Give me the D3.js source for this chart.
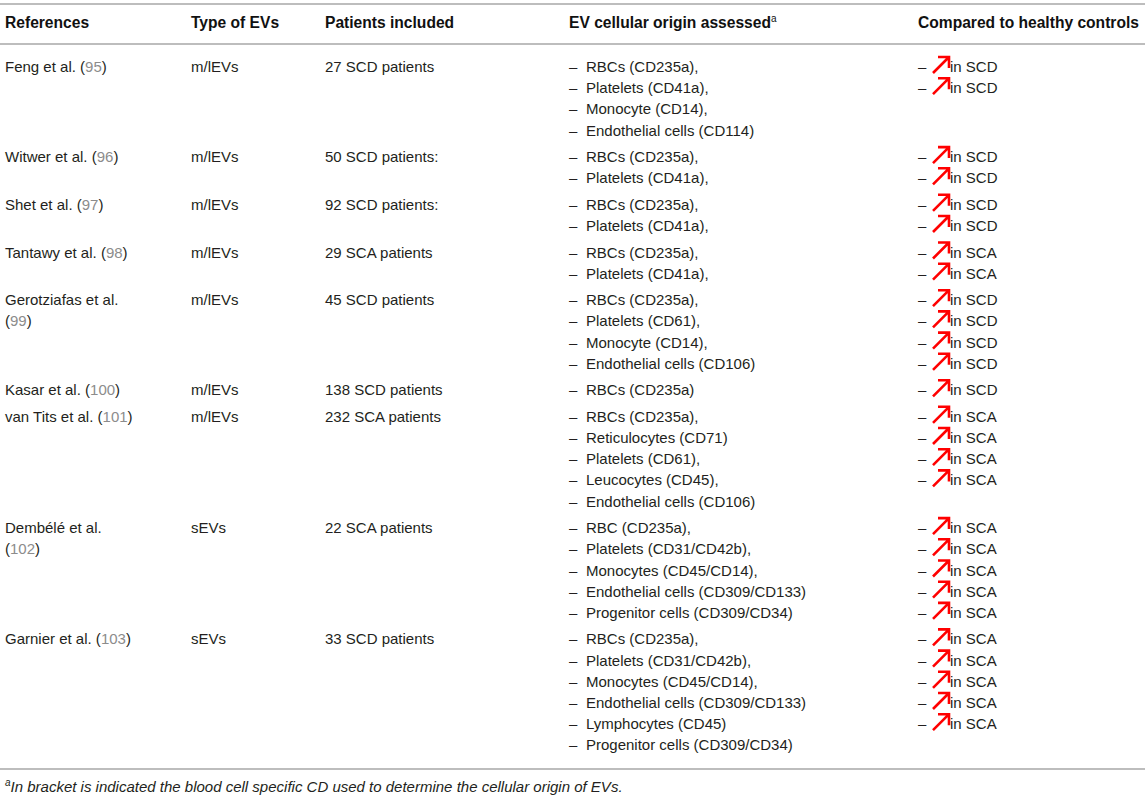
<!DOCTYPE html>
<html>
<head>
<meta charset="utf-8">
<script src="https://cdn.jsdelivr.net/npm/d3@7"></script>
<style>
  html, body { margin: 0; padding: 0; background: #fff; }
  svg { display: block; }
  text { font-family: "Liberation Sans", Arial, Helvetica, sans-serif; }
</style>
</head>
<body>
<svg id="chart" width="1145" height="798"></svg>
<script>
// ---- data ----
const headers = ["References", "Type of EVs", "Patients included", "EV cellular origin assessed", "Compared to healthy controls"];
const refAuthors = ["Feng et al.", "Witwer et al.", "Shet et al.", "Tantawy et al.", "Gerotziafas et al.", "Kasar et al.", "van Tits et al.", "Dembélé et al.", "Garnier et al."];
const refNumbers = ["95", "96", "97", "98", "99", "100", "101", "102", "103"];
const evTypes = ["m/lEVs", "m/lEVs", "m/lEVs", "m/lEVs", "m/lEVs", "m/lEVs", "m/lEVs", "sEVs", "sEVs"];
const patients = ["27 SCD patients", "50 SCD patients:", "92 SCD patients:", "29 SCA patients", "45 SCD patients", "138 SCD patients", "232 SCA patients", "22 SCA patients", "33 SCD patients"];
const origins = [
  ["RBCs (CD235a),", "Platelets (CD41a),", "Monocyte (CD14),", "Endothelial cells (CD114)"],
  ["RBCs (CD235a),", "Platelets (CD41a),"],
  ["RBCs (CD235a),", "Platelets (CD41a),"],
  ["RBCs (CD235a),", "Platelets (CD41a),"],
  ["RBCs (CD235a),", "Platelets (CD61),", "Monocyte (CD14),", "Endothelial cells (CD106)"],
  ["RBCs (CD235a)"],
  ["RBCs (CD235a),", "Reticulocytes (CD71)", "Platelets (CD61),", "Leucocytes (CD45),", "Endothelial cells (CD106)"],
  ["RBC (CD235a),", "Platelets (CD31/CD42b),", "Monocytes (CD45/CD14),", "Endothelial cells (CD309/CD133)", "Progenitor cells (CD309/CD34)"],
  ["RBCs (CD235a),", "Platelets (CD31/CD42b),", "Monocytes (CD45/CD14),", "Endothelial cells (CD309/CD133)", "Lymphocytes (CD45)", "Progenitor cells (CD309/CD34)"]
];
const increaseCounts = [2, 2, 2, 2, 4, 1, 4, 5, 5];
const diseases = ["SCD", "SCD", "SCD", "SCA", "SCD", "SCD", "SCA", "SCA", "SCA"];
const footnote = "In bracket is indicated the blood cell specific CD used to determine the cellular origin of EVs.";

// ---- layout ----
const W = 1145;
const svg = d3.select("#chart");
const FS = 15;
const HFS = 15.6;
const textColor = "#231f20";
const refColor = "#8c8c8c";
const ruleColor = "#bdbdbd";
const colX = d3.scaleOrdinal().domain(d3.range(5)).range([5, 191, 325, 569, 918]);
const dashGap = 17;       // en dash -> item text
const refWrapWidth = 132;
const lineH = 21.2;
const groupGap = 5.3;

// cumulative vertical offset (px) of each row's first line
const rowLines = origins.map(o => o.length);
const starts = [];
let acc = 0;
rowLines.forEach(n => { starts.push(acc); acc += n * lineH + groupGap; });
const y = d3.scaleLinear().domain([0, 100]).range([72, 172]); // first body baseline at 72

// rules
const rules = [4, 44, 769];
svg.selectAll("line.rule").data(rules).join("line")
  .attr("class", "rule")
  .attr("x1", 0).attr("x2", W)
  .attr("y1", d => d).attr("y2", d => d)
  .attr("stroke", ruleColor).attr("stroke-width", 2);

// header
const hdr = svg.append("g");
headers.forEach((h, i) => {
  const t = hdr.append("text")
    .attr("x", colX(i)).attr("y", 28)
    .attr("font-size", HFS).attr("font-weight", "bold").attr("fill", "#111")
    .text(h);
  if (i === 3) {
    t.append("tspan").attr("font-size", 10).attr("font-weight", "normal").attr("dy", -6).text("a");
  }
});

// body
const body = svg.append("g");
refAuthors.forEach((auth, r) => {
  const y0 = y(starts[r]);
  const full = body.append("text").attr("x", colX(0)).attr("y", y0)
    .attr("font-size", FS).attr("fill", textColor);
  full.append("tspan").text(auth + " (");
  full.append("tspan").attr("fill", refColor).text(refNumbers[r]);
  full.append("tspan").text(")");
  if (full.node().getComputedTextLength() > refWrapWidth) {
    full.selectAll("tspan").remove();
    full.append("tspan").text(auth);
    const t2 = body.append("text").attr("x", colX(0)).attr("y", y0 + lineH)
      .attr("font-size", FS).attr("fill", textColor);
    t2.append("tspan").text("(");
    t2.append("tspan").attr("fill", refColor).text(refNumbers[r]);
    t2.append("tspan").text(")");
  }
  body.append("text").attr("x", colX(1)).attr("y", y0)
    .attr("font-size", FS).attr("fill", textColor).text(evTypes[r]);
  body.append("text").attr("x", colX(2)).attr("y", y0)
    .attr("font-size", FS).attr("fill", textColor).text(patients[r]);

  origins[r].forEach((o, k) => {
    const yy = y0 + k * lineH;
    body.append("text").attr("x", colX(3)).attr("y", yy)
      .attr("font-size", FS).attr("fill", textColor).text("–");
    body.append("text").attr("x", colX(3) + dashGap).attr("y", yy)
      .attr("font-size", FS).attr("fill", textColor).text(o);
  });

  d3.range(increaseCounts[r]).forEach(k => {
    const yy = y0 + k * lineH;
    body.append("text").attr("x", colX(4)).attr("y", yy)
      .attr("font-size", FS).attr("fill", textColor).text("–");
    const ax = colX(4) + 15, ay = yy + 1, s = 16;
    body.append("path")
      .attr("d", `M${ax},${ay} L${ax + s},${ay - s} M${ax + s - 11},${ay - s} L${ax + s},${ay - s} L${ax + s},${ay - s + 11}`)
      .attr("fill", "none").attr("stroke", "#ff0000").attr("stroke-width", 2.6)
      .attr("stroke-linecap", "butt").attr("stroke-linejoin", "miter");
    body.append("text").attr("x", ax + s + 1).attr("y", yy)
      .attr("font-size", FS).attr("fill", textColor).text("in " + diseases[r]);
  });
});

// footnote
const fn = svg.append("text").attr("x", 5).attr("y", 792)
  .attr("font-size", FS).attr("font-style", "italic").attr("fill", textColor);
fn.append("tspan").attr("font-size", 10).attr("dy", -6).text("a");
fn.append("tspan").attr("dy", 6).text(footnote);
</script>
</body>
</html>
